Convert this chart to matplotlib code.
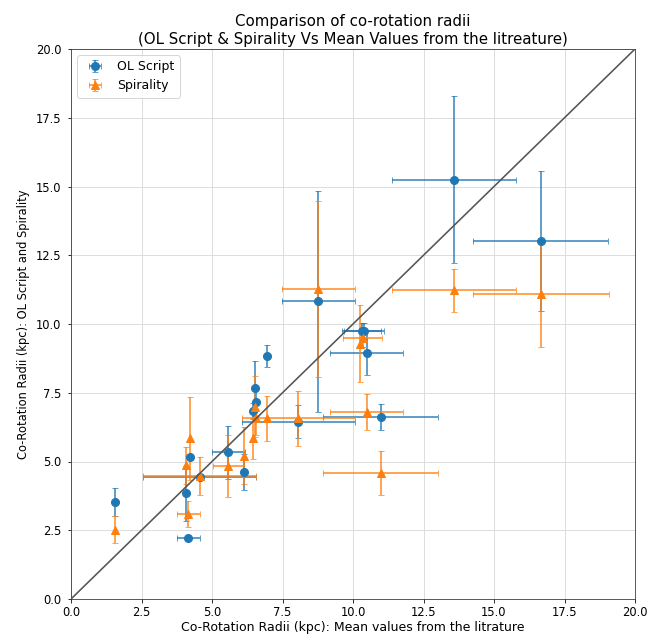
import matplotlib
matplotlib.use("Agg")
import matplotlib.pyplot as plt

# OL Script values
ol_x    = [1.56, 4.16, 4.08, 4.22, 4.57, 5.58, 6.13, 6.44, 6.55, 6.52, 6.94, 8.06, 8.77, 10.31, 10.39, 10.49, 10.98, 13.58, 16.66]
ol_y    = [3.52, 2.22, 3.85, 5.18, 4.45, 5.33, 4.62, 6.84, 7.16, 7.67, 8.84, 6.45, 10.82, 9.74, 9.74, 8.93, 6.61, 15.25, 13.01]
ol_xerr = [0.0, 0.41, 0.0, 0.0, 2.0, 0.59, 0.0, 0.0, 0.0, 0.0, 0.0, 2.0, 1.3, 0.7, 0.7, 1.3, 2.04, 2.2, 2.4]
ol_yerr = [0.5, 0.05, 1.0, 0.0, 0.1, 0.97, 0.66, 0.3, 0.5, 1.0, 0.4, 0.6, 4.03, 0.3, 0.3, 0.8, 0.47, 3.03, 2.54]

# Spirality values
sp_x    = [1.56, 4.16, 4.08, 4.22, 4.57, 5.58, 6.13, 6.44, 6.55, 6.52, 6.96, 8.06, 8.77, 10.25, 10.34, 10.49, 10.98, 13.58, 16.67]
sp_y    = [2.52, 3.10, 4.86, 5.84, 4.48, 4.84, 5.21, 5.84, 6.57, 7.00, 6.57, 6.57, 11.28, 9.29, 9.48, 6.79, 4.57, 11.22, 11.10]
sp_xerr = [0.0, 0.41, 0.0, 0.0, 2.0, 0.55, 0.0, 0.0, 0.0, 0.0, 0.0, 2.0, 1.3, 0.0, 0.7, 1.3, 2.04, 2.2, 2.4]
sp_yerr = [0.5, 0.48, 0.67, 1.5, 0.7, 1.13, 1.03, 0.75, 0.6, 1.1, 0.82, 1.0, 3.2, 1.4, 0.3, 0.66, 0.8, 0.78, 1.94]

fig = plt.figure(figsize=(662/72, 640/72), dpi=72)
ax = fig.add_axes([71/662, 41/640, 564/662, 550/640])

ax.grid(True, color='#dddddd', linewidth=1.0, zorder=0)
ax.set_axisbelow(True)

def draw(x, y, xe, ye, fmt, color, label):
    eb = ax.errorbar(x, y, xerr=xe, yerr=ye, fmt=fmt, color=color, ecolor=color,
                     capsize=3, elinewidth=2, markersize=8, label=label, zorder=3)
    for c in eb[1]:
        c.set_alpha(0.7)
    for c in eb[2]:
        c.set_alpha(0.7)
    return eb

draw(ol_x, ol_y, ol_xerr, ol_yerr, 'o', '#1f77b4', 'OL Script')
draw(sp_x, sp_y, sp_xerr, sp_yerr, '^', '#ff7f0e', 'Spirality')

ax.plot([0, 20], [0, 20], color='#555555', linewidth=1.6, zorder=4)

ax.set_xlim(0, 20)
ax.set_ylim(0, 20)
ticks = [0.0, 2.5, 5.0, 7.5, 10.0, 12.5, 15.0, 17.5, 20.0]
ax.set_xticks(ticks)
ax.set_yticks(ticks)
ax.tick_params(axis='x', labelsize=11.5, pad=3)
ax.tick_params(axis='y', labelsize=11.5, pad=6)
for s in ax.spines.values():
    s.set_color('#333333')

ax.set_title("Comparison of co-rotation radii\n(OL Script & Spirality Vs Mean Values from the litreature)",
             fontsize=15, pad=5, linespacing=1.25)
ax.set_xlabel("Co-Rotation Radii (kpc): Mean values from the litrature", fontsize=12.5, labelpad=2)
ax.set_ylabel("Co-Rotation Radii (kpc): OL Script and Spirality", fontsize=11.5, labelpad=6)
ax.legend(loc='upper left', fontsize=12.5)

fig.savefig("out.png", dpi=72)
